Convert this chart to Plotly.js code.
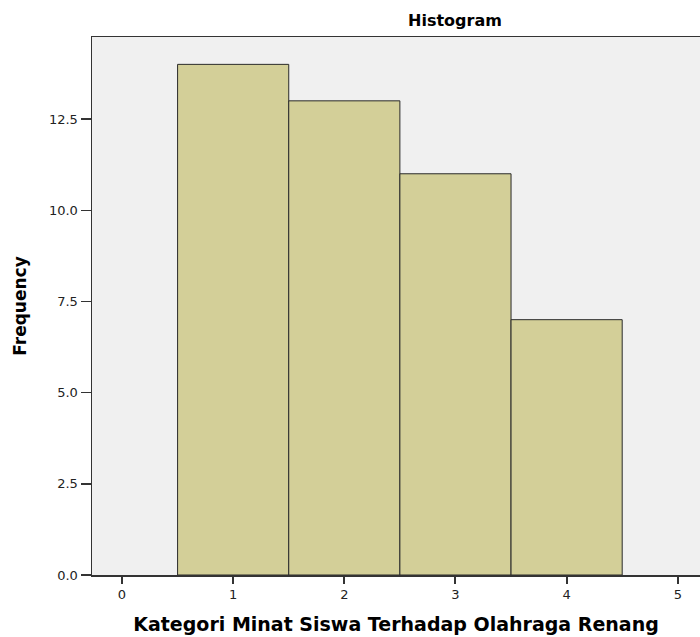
<!DOCTYPE html>
<html>
<head>
<meta charset="utf-8">
<script src="https://cdn.plot.ly/plotly-3.0.1.min.js"></script>
<style>html,body{margin:0;padding:0;background:#fff;}#chart{width:700px;height:637px;}</style>
</head>
<body>
<div id="chart"></div>
<script>
const categories = [1, 2, 3, 4];
const frequencies = [14, 13, 11, 7];
const xTickVals = [0, 1, 2, 3, 4, 5];
const yTickVals = [0, 2.5, 5, 7.5, 10, 12.5];
const yTickText = ["0.0", "2.5", "5.0", "7.5", "10.0", "12.5"];

const trace = {
  type: 'bar',
  x: categories,
  y: frequencies,
  width: 1,
  marker: {color: '#d3cf98', line: {color: '#2a2a2a', width: 1}},
  hoverinfo: 'skip'
};

const layout = {
  width: 700, height: 637,
  margin: {l: 92, r: 0, t: 37, b: 62},
  paper_bgcolor: '#ffffff',
  plot_bgcolor: '#f0f0f0',
  font: {family: 'DejaVu Sans, sans-serif', color: '#222'},
  showlegend: false,
  title: {text: '<b>Histogram</b>', x: 0.65, xref: 'container', xanchor: 'center', y: 0.968, yref: 'container', yanchor: 'middle', font: {size: 16, color: '#000'}},
  xaxis: {
    range: [-0.27, 5.2],
    tickvals: xTickVals,
    ticks: 'outside', ticklen: 7, tickwidth: 2, tickcolor: '#333',
    showgrid: false, zeroline: false,
    showline: true, linecolor: '#333', linewidth: 1.5, mirror: true,
    tickfont: {size: 13, color: '#222'},
    title: {text: '<b>Kategori Minat Siswa Terhadap Olahraga Renang</b>', font: {size: 19, color: '#000'}, standoff: 16}
  },
  yaxis: {
    range: [0, 14.75],
    tickvals: yTickVals, ticktext: yTickText,
    ticks: 'outside', ticklen: 10, tickwidth: 1.5, tickcolor: '#333',
    showgrid: false, zeroline: false,
    showline: true, linecolor: '#333', linewidth: 1.5,
    tickfont: {size: 13, color: '#222'},
    title: {text: '<b>Frequency</b>', font: {size: 17, color: '#000'}, standoff: 18}
  }
};

Plotly.newPlot('chart', [trace], layout, {displayModeBar: false, staticPlot: true});
</script>
</body>
</html>
